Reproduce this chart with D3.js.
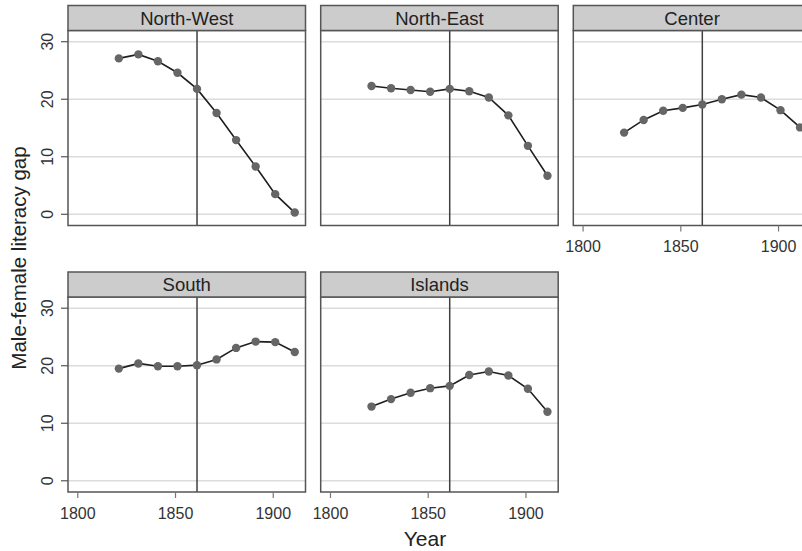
<!DOCTYPE html>
<html>
<head>
<meta charset="utf-8">
<script src="https://cdn.jsdelivr.net/npm/d3@7"></script>
<style>
  body { margin: 0; background: #fff; }
  svg { font-family: "Liberation Sans", Arial, sans-serif; }
</style>
</head>
<body>
<div id="chart"></div>
<script>
// census years and male-female literacy gap per region
var years = [1821, 1831, 1841, 1851, 1861, 1871, 1881, 1891, 1901, 1911];
var regions = ["North-West", "North-East", "Center", "South", "Islands"];
var northWest = [27.1, 27.8, 26.6, 24.6, 21.8, 17.6, 12.9, 8.3, 3.5, 0.3];
var northEast = [22.3, 21.9, 21.6, 21.3, 21.8, 21.4, 20.3, 17.2, 11.9, 6.7];
var center = [14.2, 16.4, 18.0, 18.5, 19.1, 20.0, 20.8, 20.3, 18.1, 15.1];
var south = [19.5, 20.4, 19.9, 19.9, 20.1, 21.1, 23.1, 24.2, 24.1, 22.4];
var islands = [12.9, 14.2, 15.3, 16.1, 16.5, 18.4, 19.0, 18.3, 16.0, 12.0];
var unification = 1861;
var xTicks = [1800, 1850, 1900];
var yTicks = [0, 10, 20, 30];

var series = [northWest, northEast, center, south, islands];

var width = 802, height = 551;
var colLeft = [68, 320.7, 573.3];
var panelW = 237.5;
var rowTop = [5.5, 272];
var stripH = 25;
var plotH = 195;

var svg = d3.select("#chart").append("svg")
    .attr("width", width)
    .attr("height", height);

var x = d3.scaleLinear().domain([1795, 1916.5]).range([0, panelW]);
var y = d3.scaleLinear().domain([-1.95, 31.95]).range([plotH, 0]);

var line = d3.line()
    .x(function (d) { return x(d.year); })
    .y(function (d) { return y(d.value); });

regions.forEach(function (name, i) {
    var row = Math.floor(i / 3), col = i % 3;
    var g = svg.append("g")
        .attr("transform", "translate(" + colLeft[col] + "," + (rowTop[row] + stripH) + ")");

    var pts = years.map(function (yr, j) { return {year: yr, value: series[i][j]}; });

    // grid lines
    g.selectAll(".grid")
        .data(yTicks)
        .enter().append("line")
        .attr("x1", 0).attr("x2", panelW)
        .attr("y1", function (d) { return y(d); })
        .attr("y2", function (d) { return y(d); })
        .attr("stroke", "#dcdcdc")
        .attr("stroke-width", 1.5);

    // unification line
    g.append("line")
        .attr("x1", x(unification)).attr("x2", x(unification))
        .attr("y1", 0).attr("y2", plotH)
        .attr("stroke", "#404040")
        .attr("stroke-width", 1.5);

    g.append("path")
        .datum(pts)
        .attr("d", line)
        .attr("fill", "none")
        .attr("stroke", "#1e1e1e")
        .attr("stroke-width", 1.6);

    g.selectAll(".pt")
        .data(pts)
        .enter().append("circle")
        .attr("cx", function (d) { return x(d.year); })
        .attr("cy", function (d) { return y(d.value); })
        .attr("r", 4.2)
        .attr("fill", "#666");

    // panel border
    g.append("rect")
        .attr("x", 0).attr("y", 0)
        .attr("width", panelW).attr("height", plotH)
        .attr("fill", "none")
        .attr("stroke", "#555")
        .attr("stroke-width", 1.5);

    // strip
    g.append("rect")
        .attr("x", 0).attr("y", -stripH)
        .attr("width", panelW).attr("height", stripH)
        .attr("fill", "#cccccc")
        .attr("stroke", "#555")
        .attr("stroke-width", 1.5);

    g.append("text")
        .attr("x", panelW / 2)
        .attr("y", -stripH / 2)
        .attr("text-anchor", "middle")
        .attr("dominant-baseline", "central")
        .attr("font-size", 18.5)
        .attr("fill", "#222")
        .text(name);

    // y axis on first column
    if (col == 0) {
        g.selectAll(".ytick")
            .data(yTicks)
            .enter().append("line")
            .attr("x1", -7).attr("x2", 0)
            .attr("y1", function (d) { return y(d); })
            .attr("y2", function (d) { return y(d); })
            .attr("stroke", "#555")
            .attr("stroke-width", 1.2);
        g.selectAll(".ylab")
            .data(yTicks)
            .enter().append("text")
            .attr("transform", function (d) {
                return "translate(-21," + y(d) + ") rotate(-90)";
            })
            .attr("text-anchor", "middle")
            .attr("dominant-baseline", "central")
            .attr("font-size", 16)
            .attr("fill", "#333")
            .text(function (d) { return d; });
    }

    // x axis on bottom panel of each column
    if (row == 1 || col == 2) {
        g.selectAll(".xtick")
            .data(xTicks)
            .enter().append("line")
            .attr("x1", function (d) { return x(d); })
            .attr("x2", function (d) { return x(d); })
            .attr("y1", plotH).attr("y2", plotH + 6)
            .attr("stroke", "#777")
            .attr("stroke-width", 1.2);
        g.selectAll(".xlab")
            .data(xTicks)
            .enter().append("text")
            .attr("x", function (d) { return x(d); })
            .attr("y", plotH + 21)
            .attr("text-anchor", "middle")
            .attr("dominant-baseline", "central")
            .attr("font-size", 16)
            .attr("fill", "#333")
            .text(function (d) { return d; });
    }
});

// axis titles
svg.append("text")
    .attr("x", 425)
    .attr("y", 538)
    .attr("text-anchor", "middle")
    .attr("dominant-baseline", "central")
    .attr("font-size", 21)
    .attr("fill", "#222")
    .text("Year");

svg.append("text")
    .attr("transform", "translate(18,258) rotate(-90)")
    .attr("text-anchor", "middle")
    .attr("dominant-baseline", "central")
    .attr("font-size", 20.5)
    .attr("fill", "#222")
    .text("Male-female literacy gap");
</script>
</body>
</html>
